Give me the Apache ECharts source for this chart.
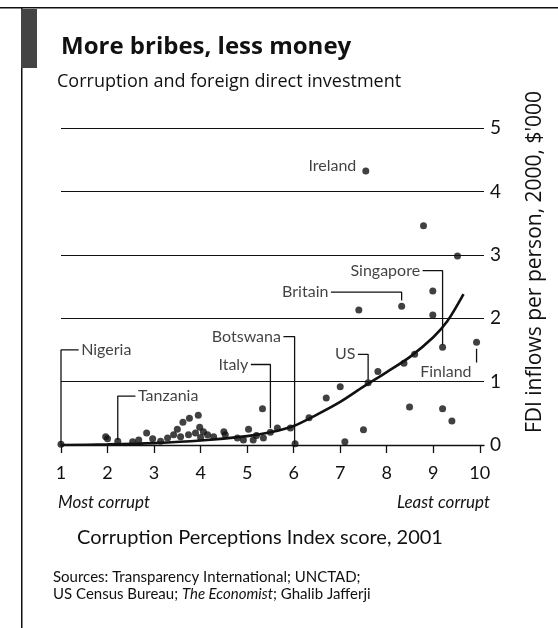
<!DOCTYPE html>
<html>
<head>
<meta charset="utf-8">
<script src="https://cdn.jsdelivr.net/npm/echarts@6/dist/echarts.min.js"></script>
<style>
html,body{margin:0;padding:0;background:#fff;}
#c{width:558px;height:628px;}
</style>
</head>
<body>
<div id="c"></div>
<script>
// ---- data ----
const pointsX = [7.55, 8.79, 9.52, 8.99, 8.32, 7.40, 8.99, 9.93, 9.20, 8.60, 8.37, 7.81, 7.60, 7.00, 6.70, 8.49, 9.20, 9.40, 7.50, 7.10,
  6.33, 5.93, 6.03, 5.50, 5.65, 5.33, 5.35, 5.20, 5.13, 5.03, 4.92, 4.79, 4.53, 4.50, 4.28, 4.15, 4.06, 4.00, 3.98, 3.95, 3.89,
  3.76, 3.74, 3.62, 3.57, 3.50, 3.42, 3.29, 3.14, 2.97, 2.84, 2.67, 2.54, 2.22, 2.00, 1.96, 1.00];
const pointsY = [4.32, 3.46, 2.98, 2.43, 2.19, 2.13, 2.05, 1.62, 1.54, 1.43, 1.29, 1.16, 0.98, 0.92, 0.74, 0.60, 0.57, 0.38, 0.24, 0.05,
  0.43, 0.27, 0.02, 0.20, 0.27, 0.57, 0.11, 0.15, 0.08, 0.25, 0.08, 0.11, 0.16, 0.21, 0.13, 0.16, 0.21, 0.12, 0.28, 0.47, 0.19,
  0.42, 0.16, 0.36, 0.13, 0.25, 0.16, 0.11, 0.06, 0.10, 0.19, 0.08, 0.05, 0.06, 0.10, 0.13, 0.01];
const trendX = [1, 2, 3, 4, 5, 5.5, 6, 6.5, 7, 7.5, 8, 8.5, 9, 9.3, 9.65];
const trendY = [0, 0.01, 0.03, 0.07, 0.14, 0.2, 0.3, 0.48, 0.68, 0.92, 1.15, 1.39, 1.7, 1.95, 2.38];
const xTicks = [1, 2, 3, 4, 5, 6, 7, 8, 9, 10];
const yTicks = [0, 1, 2, 3, 4, 5];
// annotation labels: name, anchor (data coords), side, bracket path (data coords)
const labelNames = ['Nigeria', 'Tanzania', 'Italy', 'Botswana', 'US', 'Singapore', 'Britain', 'Finland', 'Ireland'];
const labelAnchorX = [1.38, 2.60, 5.08, 5.78, 7.38, 8.77, 6.80, 9.27, 7.40];
const labelAnchorY = [1.50, 0.77, 1.27, 1.71, 1.43, 2.75, 2.41, 1.16, 4.41];
const labelSide = ['right', 'right', 'left', 'left', 'left', 'left', 'left', 'center', 'left'];
const bracketPaths = [
  [[1.38, 1.50], [1.0, 1.50], [1.0, 0.0]],
  [[2.60, 0.77], [2.22, 0.77], [2.22, 0.08]],
  [[5.08, 1.27], [5.50, 1.27], [5.50, 0.27]],
  [[5.78, 1.71], [6.02, 1.71], [6.02, 0.02]],
  [[7.38, 1.43], [7.60, 1.43], [7.60, 1.03]],
  [[8.77, 2.75], [9.20, 2.75], [9.20, 1.58]],
  [[6.80, 2.41], [8.32, 2.41], [8.32, 2.28]],
  [[9.93, 1.30], [9.93, 1.52]],
  []
];

const FONT = 'Lato, "Open Sans", sans-serif';
const HFONT = '"Open Sans", Lato, sans-serif';
const INK = '#111';

const chart = echarts.init(document.getElementById('c'), null, {renderer: 'canvas'});

const scatterData = pointsX.map((x, i) => [x, pointsY[i]]);
const trendData = trendX.map((x, i) => [x, trendY[i]]);

const bracketSeries = bracketPaths.filter(p => p.length).map(p => ({
  type: 'line', data: p, showSymbol: false, symbol: 'none', silent: true,
  lineStyle: {color: INK, width: 1.3}, z: 3, animation: false
}));

const labelData = labelNames.map((n, i) => ({
  value: [labelAnchorX[i], labelAnchorY[i]],
  label: {
    show: true, formatter: n,
    position: labelSide[i] === 'center' ? 'inside' : labelSide[i],
    distance: 2
  }
}));

const option = {
  animation: false,
  grid: {left: 61, right: 74, top: 128, bottom: 183, containLabel: false},
  xAxis: {
    type: 'value', min: 1, max: 10.09,
    axisLine: {show: true, lineStyle: {color: INK, width: 1.3}},
    axisTick: {show: true, length: 8, customValues: xTicks, lineStyle: {color: INK, width: 1.3}},
    axisLabel: {color: INK, fontSize: 18, fontFamily: FONT, margin: 19, customValues: xTicks},
    splitLine: {show: false}
  },
  yAxis: {
    type: 'value', position: 'right', min: 0, max: 5, interval: 1,
    axisLine: {show: false}, axisTick: {show: false},
    axisLabel: {color: INK, fontSize: 19, fontFamily: FONT, margin: 6,
      formatter: v => yTicks.includes(v) ? String(v) : ''},
    splitLine: {show: true, lineStyle: {color: INK, width: 1.1}}
  },
  series: [
    ...bracketSeries,
    {
      type: 'line', data: trendData, smooth: 0.3, showSymbol: false, symbol: 'none',
      lineStyle: {color: INK, width: 2.6}, z: 4, silent: true
    },
    {
      type: 'scatter', data: scatterData, symbol: 'circle', symbolSize: 7,
      itemStyle: {color: INK}, z: 5, silent: true
    },
    {
      type: 'scatter', data: labelData, symbolSize: 1,
      itemStyle: {color: 'rgba(0,0,0,0)'}, z: 6, silent: true,
      label: {color: INK, fontSize: 16, fontFamily: FONT, backgroundColor: 'transparent'}
    }
  ],
  graphic: [
    {type: 'rect', shape: {x: 0, y: 7, width: 558, height: 1.5}, style: {fill: INK}},
    {type: 'rect', shape: {x: 21, y: 7, width: 1.5, height: 621}, style: {fill: INK}},
    {type: 'rect', shape: {x: 21, y: 9, width: 16, height: 59}, style: {fill: '#444'}},
    {type: 'text', left: 61, top: 35, style: {text: 'More bribes, less money', font: 'bold 24px ' + HFONT, fill: INK}},
    {type: 'text', left: 57, top: 73, style: {text: 'Corruption and foreign direct investment', font: '18px ' + HFONT, fill: INK}},
    {type: 'text', x: 535, y: 262, rotation: Math.PI / 2,
      style: {text: "FDI inflows per person, 2000, $'000", font: '21px ' + HFONT, fill: INK, align: 'center', verticalAlign: 'middle'}},
    {type: 'text', left: 58, top: 494, style: {text: 'Most corrupt', font: 'italic 17px ' + FONT, fill: INK}},
    {type: 'text', x: 490, y: 494, style: {text: 'Least corrupt', font: 'italic 17px ' + FONT, fill: INK, align: 'right'}},
    {type: 'text', x: 260, y: 538, style: {text: 'Corruption Perceptions Index score, 2001', font: '20px ' + FONT, fill: INK, align: 'center', verticalAlign: 'middle'}},
    {type: 'text', left: 53, top: 570, style: {text: 'Sources: Transparency International; UNCTAD;', font: '15px ' + FONT, fill: INK}},
    {type: 'text', left: 53, top: 587, style: {
      text: '{a|US Census Bureau; }{i|The Economist}{a|; Ghalib Jafferji}',
      rich: {a: {font: '15px ' + FONT, fill: INK}, i: {font: 'italic 15px ' + FONT, fill: INK}}
    }}
  ]
};
chart.setOption(option);
</script>
</body>
</html>
